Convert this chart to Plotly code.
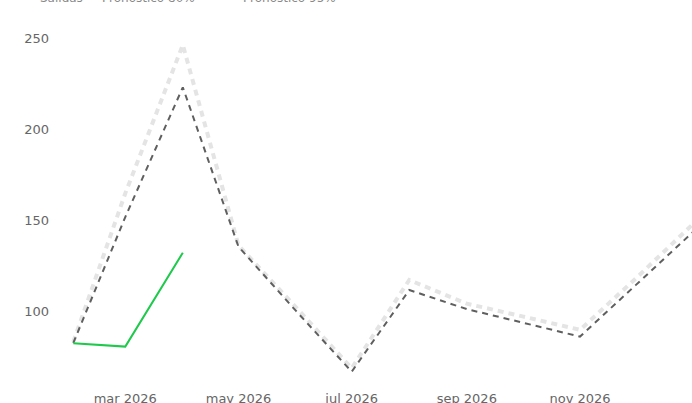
import plotly.graph_objects as go

# Monthly periods
months = ["2026-02-01", "2026-03-01", "2026-04-01", "2026-05-01", "2026-06-01",
          "2026-07-01", "2026-08-01", "2026-09-01", "2026-10-01", "2026-11-01",
          "2026-12-01", "2027-01-01"]

# Actual outflows (only the first months are known)
salidas_months = ["2026-02-01", "2026-03-01", "2026-04-01"]
salidas = [82.3, 80.4, 132.0]

# Forecast bands
pronostico_80 = [82.4, 151.6, 222.9, 135.3, 100.0, 66.6, 111.5, 101.0, 93.6, 85.9, 114.2, 143.5]
pronostico_95 = [83.0, 164.6, 246.2, 136.0, 102.0, 68.5, 117.0, 104.0, 97.0, 89.6, 117.8, 147.9]

tick_vals = ["2026-03-01", "2026-05-01", "2026-07-01", "2026-09-01", "2026-11-01"]
tick_text = ["mar 2026", "may 2026", "jul 2026", "sep 2026", "nov 2026"]
y_ticks = [100, 150, 200, 250]

W, H = 692, 403
ML, MR, MT, MB = 55, 0, 30, 18
plot_w = W - ML - MR


def paper_x(px):
    """Convert a pixel offset from the left page edge into paper coordinates."""
    return (px - ML) / plot_w


fig = go.Figure()
fig.add_trace(go.Scatter(
    x=months, y=pronostico_95, name="Pronóstico 95%", mode="lines",
    line=dict(color="#e4e4e4", width=4, dash="6px,5px"), legend="legend3",
))
fig.add_trace(go.Scatter(
    x=months, y=pronostico_80, name="Pronóstico 80%", mode="lines",
    line=dict(color="#5f5f5f", width=2, dash="6px,5px"), legend="legend2",
))
fig.add_trace(go.Scatter(
    x=salidas_months, y=salidas, name="Salidas", mode="lines",
    line=dict(color="#1ec94c", width=2), legend="legend",
))

legend_style = dict(orientation="h", xanchor="left", y=1.093, yanchor="middle",
                    font=dict(size=12, color="#888"), bgcolor="rgba(0,0,0,0)")

fig.update_layout(
    width=W, height=H,
    margin=dict(l=ML, r=MR, t=MT, b=MB, autoexpand=False),
    paper_bgcolor="white", plot_bgcolor="white",
    font=dict(family="Verdana, DejaVu Sans, sans-serif", size=13, color="#666"),
    showlegend=True,
    legend=dict(x=paper_x(0), **legend_style),
    legend2=dict(x=paper_x(62), **legend_style),
    legend3=dict(x=paper_x(203), **legend_style),
    xaxis=dict(
        type="date",
        range=["2026-01-22 03:22", "2026-12-31 08:10"],
        tickvals=tick_vals, ticktext=tick_text,
        showgrid=False, zeroline=False, showline=False, ticks="",
        ticklabelstandoff=4,
    ),
    yaxis=dict(
        range=[59.3, 254.4],
        tickvals=y_ticks,
        showgrid=False, zeroline=False, showline=False, ticks="",
        ticklabelstandoff=5,
    ),
)

fig.write_html("out.html")
